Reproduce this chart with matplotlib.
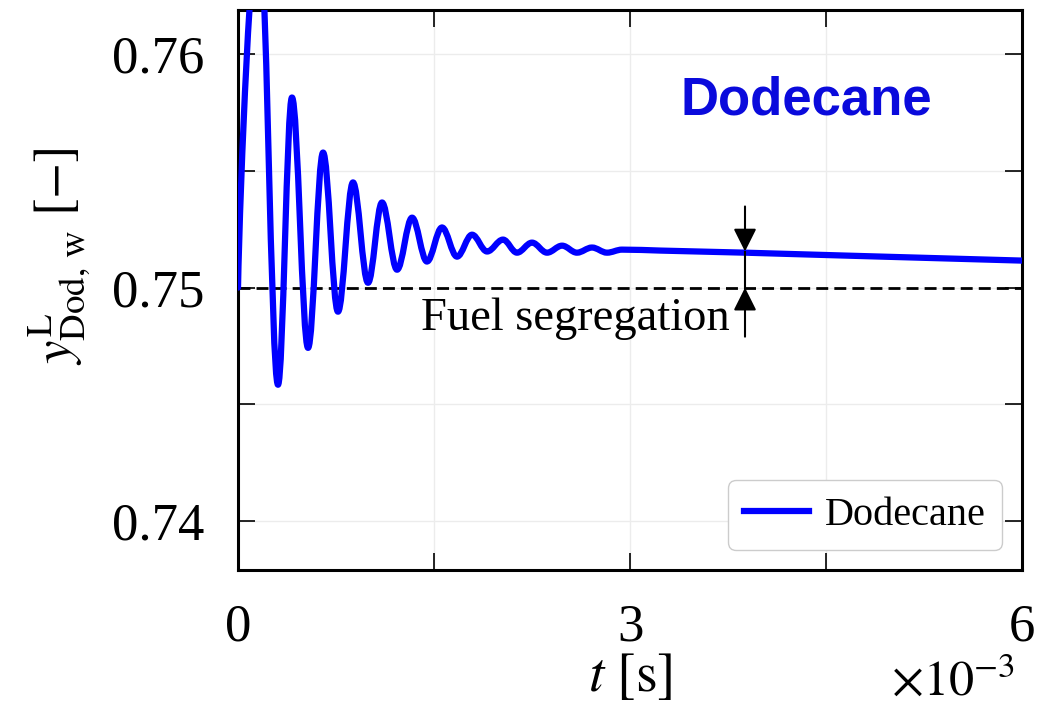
import numpy as np
import matplotlib
matplotlib.use("Agg")
import matplotlib.pyplot as plt
from matplotlib.path import Path
from matplotlib.patches import PathPatch
from matplotlib.lines import Line2D

# === 数据 (读自图片: 极值点 + 尾部) ===
t_ms = [0.0, 0.161, 0.306, 0.413, 0.536, 0.651, 0.765, 0.880, 0.995, 1.102,
        1.217, 1.332, 1.446, 1.561, 1.676, 1.791, 1.906, 2.028, 2.135, 2.250,
        2.365, 2.480, 2.594, 2.709, 2.824, 2.939, 3.23, 3.88, 4.68, 6.0]
y_dod = [0.75, 0.7658, 0.74584, 0.75815, 0.74742, 0.75579, 0.74897, 0.75451,
         0.75021, 0.75365, 0.75077, 0.75300, 0.75112, 0.75258, 0.75133, 0.75227,
         0.75155, 0.75206, 0.75150, 0.75193, 0.75150, 0.75180, 0.75150, 0.75172,
         0.75150, 0.75163, 0.75159, 0.75150, 0.75137, 0.75116]
n_extrema = 26  # 前26个点为极值点 (含起点)
y_init = 0.75
t_arrow = 3.88e-3
arrow_top = 0.75348
arrow_curve = 0.75155
arrow_bottom = 0.7479

x_ticks = [0, 1.5e-3, 3e-3, 4.5e-3, 6e-3]
x_ticklabels = ['0', '', '3', '', '6']
y_ticks = [0.74, 0.745, 0.75, 0.755, 0.76]
y_ticklabels = ['0.74', '', '0.75', '', '0.76']

plt.rcParams['font.family'] = ['Liberation Serif', 'DejaVu Serif']
plt.rcParams['mathtext.fontset'] = 'stix'

fig = plt.figure(figsize=(10.38, 7.25), dpi=100)
ax = fig.add_axes([0.2293, 0.2138, 0.7553, 0.7724])

# === 平滑曲线: 极值点之间用贝塞尔曲线连接 ===
t = np.array(t_ms) * 1e-3
y = np.array(y_dod)
verts = [(t[0], y[0])]
codes = [Path.MOVETO]
for i in range(len(t) - 1):
    dt = t[i + 1] - t[i]
    dy = y[i + 1] - y[i]
    if i == 0:
        c1 = (t[0] + 0.1 * dt, y[0] + 0.3 * dy)
    elif i < n_extrema:
        c1 = (t[i] + 0.36 * dt, y[i])
    else:
        c1 = (t[i] + dt / 3, y[i] + dy / 3)
    if i + 1 < n_extrema:
        c2 = (t[i + 1] - 0.36 * dt, y[i + 1])
    else:
        c2 = (t[i + 1] - dt / 3, y[i + 1] - dy / 3)
    verts += [c1, c2, (t[i + 1], y[i + 1])]
    codes += [Path.CURVE4] * 3
curve = PathPatch(Path(verts, codes), fill=False, edgecolor='#0000ff', lw=4.5,
                  joinstyle='round', capstyle='round', zorder=3)
ax.add_patch(curve)

ax.axhline(y_init, color='black', ls=(0, (4.3, 2.2)), lw=2, zorder=2)

# 箭头
ax.plot([t_arrow, t_arrow], [arrow_curve, y_init], color='black', lw=1.5, zorder=4)
arrow_kw = dict(arrowstyle='-|>,head_length=0.7,head_width=0.35', color='black', lw=1.5,
                mutation_scale=20, shrinkA=0, shrinkB=0)
ax.annotate('', xy=(t_arrow, arrow_curve), xytext=(t_arrow, arrow_top), arrowprops=arrow_kw, zorder=4)
ax.annotate('', xy=(t_arrow, y_init), xytext=(t_arrow, arrow_bottom), arrowprops=arrow_kw, zorder=4)
ax.text(t_arrow - 0.115e-3, 0.74865, 'Fuel segregation', fontsize=33.5, ha='right', va='center')

ax.text(0.7245, 0.839, 'Dodecane', transform=ax.transAxes, fontsize=38, fontweight='bold',
        family='Liberation Sans', color='#0a0adc', ha='center', va='center')

ax.set_xlim(0, 6e-3)
ax.set_ylim(0.7379, 0.7619)
ax.set_xticks(x_ticks)
ax.set_xticklabels(x_ticklabels)
ax.set_yticks(y_ticks)
ax.set_yticklabels(y_ticklabels)
ax.tick_params(direction='in', length=12, width=1.2, labelsize=38, top=True, right=True)
ax.tick_params(axis='x', pad=24)
ax.tick_params(axis='y', pad=24)
ax.grid(True, color='#ececec', lw=1)
for s in ax.spines.values():
    s.set_linewidth(2.2)

ax.set_xlabel(r'$t\ [\mathrm{s}]$', fontsize=40, labelpad=0)
ax.set_ylabel(r'$y^{\mathrm{L}}_{\mathrm{Dod,\,w}}\ [-]$', fontsize=38)
ax.yaxis.set_label_coords(-0.185, 0.56)
fig.text(0.978, 0.059, r'$\times10^{-3}$', fontsize=36, ha='right', va='center')

handle = Line2D([], [], color='#0000ff', lw=4.5)
ax.legend([handle], ['Dodecane'], loc='lower right', fontsize=29, handlelength=1.6,
          handletextpad=0.4, fancybox=True, edgecolor='#cccccc', framealpha=1)

fig.savefig('out.png', dpi=100)
plt.close()
